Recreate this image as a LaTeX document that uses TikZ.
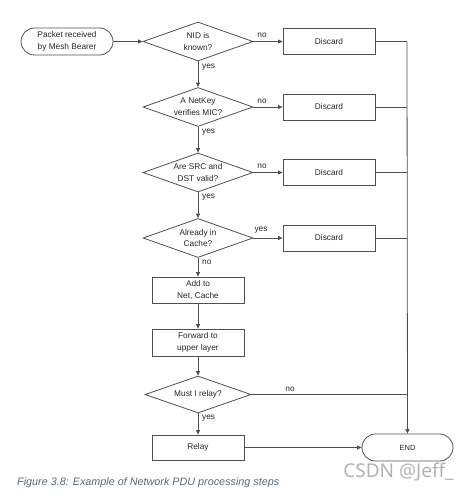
\documentclass[tikz,border=0pt]{standalone}
\usepackage{fontspec}
\setmainfont{Liberation Sans}
\newfontfamily\wmfont{Noto Sans}
\usetikzlibrary{shapes.geometric,shapes.misc,arrows.meta}
\definecolor{ln}{HTML}{505050}
\definecolor{capc}{RGB}{85,105,125}
\tikzset{
  every node/.style={font=\fontsize{8.3}{11.7}\selectfont, text=black!85},
  flowline/.style={draw=ln, line width=0.8pt},
  arr/.style={flowline, -{Triangle[length=4.5pt,width=4pt]}},
  procbox/.style={draw=ln, line width=0.8pt, rectangle, minimum width=92pt, minimum height=26pt, inner sep=0pt, align=center},
  termbox/.style={draw=ln, line width=0.8pt, rounded rectangle, minimum width=92pt, minimum height=27pt, inner sep=0pt, align=center},
  decbox/.style={draw=ln, line width=0.8pt, diamond, minimum width=110pt, minimum height=39pt, inner sep=0pt, aspect=2.8, align=center},
  lbl/.style={inner sep=0pt}
}
\begin{document}
\begin{tikzpicture}[x=1pt,y=-1pt]
\useasboundingbox (0,0) rectangle (465,493);
\node[termbox] (start) at (67,41.5) {Packet received\\by Mesh Bearer};
\node[decbox] (d1) at (198,41.5) {NID is\\known?};
\node[decbox] (d2) at (198,107) {A NetKey\\verifies MIC?};
\node[decbox] (d3) at (198,172.5) {Are SRC and\\DST valid?};
\node[decbox] (d4) at (198,238) {Already in\\Cache?};
\node[procbox] (add) at (198,290) {Add to\\Net, Cache};
\node[procbox, minimum height=27pt] (fwd) at (198,342.5) {Forward to\\upper layer};
\node[decbox, minimum width=106pt, minimum height=37pt] (d5) at (198,394.5) {Must I relay?};
\node[procbox, minimum height=25pt] (relay) at (198,447.5) {Relay};
\node[procbox] (x1) at (329,41.5) {Discard};
\node[procbox] (x2) at (329,107) {Discard};
\node[procbox] (x3) at (329,172.5) {Discard};
\node[procbox] (x4) at (329,238) {Discard};
\node[termbox, minimum width=91pt] (end) at (407.5,447.5) {\fontsize{7.5}{9}\selectfont END};
\coordinate (j1) at (407,41.5);
\coordinate (j2) at (407,107);
\coordinate (j3) at (407,172.5);
\coordinate (j4) at (407,238);
\coordinate (j5) at (407,394.5);
% main flow
\draw[arr] (start) -- (d1);
\draw[arr] (d1) -- (d2);
\draw[arr] (d2) -- (d3);
\draw[arr] (d3) -- (d4);
\draw[arr] (d4) -- (add);
\draw[arr] (add) -- (fwd);
\draw[arr] (fwd) -- (d5);
\draw[arr] (d5) -- (relay);
\draw[arr] (relay) -- (end);
% discards
\draw[arr] (d1) -- (x1);
\draw[arr] (d2) -- (x2);
\draw[arr] (d3) -- (x3);
\draw[arr] (d4) -- (x4);
\draw[flowline] (x1.east) -- (j1);
\draw[flowline] (x2.east) -- (j2);
\draw[flowline] (x3.east) -- (j3);
\draw[flowline] (x4.east) -- (j4);
\draw[flowline] (d5.east) -- (j5);
\draw[arr] (j1) -- (end.north);
% labels
\node[lbl] (l1) at (262,35) {no};
\node[lbl] (l2) at (262,101) {no};
\node[lbl] (l3) at (262,166.5) {no};
\node[lbl] (l4) at (261,230.5) {yes};
\node[lbl] (l5) at (290,389) {no};
\node[lbl, anchor=west] (y1) at (202,67.5) {yes};
\node[lbl, anchor=west] (y2) at (202,132.5) {yes};
\node[lbl, anchor=west] (y3) at (202,197.5) {yes};
\node[lbl, anchor=west] (n4) at (202,262.5) {no};
\node[lbl, anchor=west] (y5) at (202,418.5) {yes};
% caption
\node[lbl, anchor=west, text=capc, font=\fontsize{10.8}{13}\selectfont\itshape] (cap) at (17,483) {Figure 3.8: Example of Network PDU processing steps};
\node[lbl, text=black!30, font=\wmfont\fontsize{19}{23}\selectfont] (wm) at (398.5,472) {CSDN @Jeff\_};
\end{tikzpicture}
\end{document}
